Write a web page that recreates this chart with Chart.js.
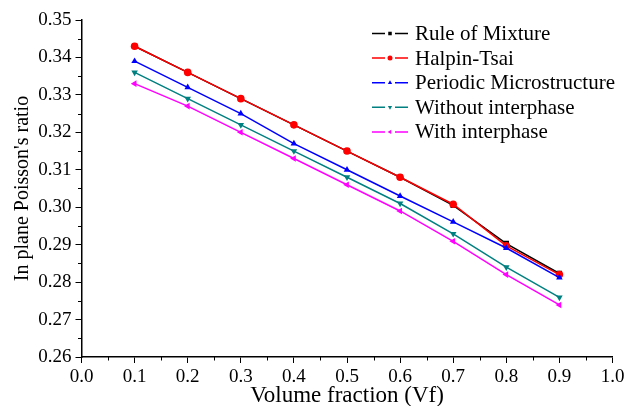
<!DOCTYPE html>
<html>
<head>
<meta charset="utf-8">
<script src="https://cdn.jsdelivr.net/npm/chart.js@4/dist/chart.umd.min.js"></script>
<style>
  html, body { margin: 0; padding: 0; background: #fff; }
  #wrap { width: 628px; height: 406px; }
</style>
</head>
<body>
<div id="wrap"><canvas id="chart" width="628" height="406"></canvas></div>
<script>
// data
const volumeFraction = [0.1, 0.2, 0.3, 0.4, 0.5, 0.6, 0.7, 0.8, 0.9];
const ruleOfMixture = [0.343, 0.336, 0.329, 0.322, 0.315, 0.308, 0.3005, 0.2903, 0.2823];
const halpinTsai = [0.343, 0.336, 0.329, 0.322, 0.315, 0.308, 0.3008, 0.2897, 0.2820];
const periodicMicro = [0.339, 0.332, 0.325, 0.317, 0.310, 0.303, 0.2961, 0.2891, 0.2812];
const withoutInterphase = [0.336, 0.329, 0.322, 0.315, 0.308, 0.301, 0.2929, 0.2840, 0.2759];
const withInterphase = [0.333, 0.327, 0.320, 0.313, 0.306, 0.299, 0.2909, 0.2820, 0.2739];
const seriesNames = ["Rule of Mixture", "Halpin-Tsai", "Periodic Microstructure", "Without interphase", "With interphase"];

const serif = "'Liberation Serif', 'DejaVu Serif', serif";

function pts(ys) {
  return volumeFraction.map((x, i) => ({ x: x, y: ys[i] }));
}

function makeSet(label, ys, color, style, rot) {
  return {
    label: label,
    data: pts(ys),
    borderColor: color,
    backgroundColor: color,
    borderWidth: 1.5,
    pointStyle: style,
    rotation: rot || 0,
    pointRadius: 3.8,
    pointBorderWidth: 0,
    tension: 0,
  };
}

const datasets = [
  makeSet(seriesNames[0], ruleOfMixture, "#000000", "rect"),
  makeSet(seriesNames[1], halpinTsai, "#ff0000", "circle"),
  makeSet(seriesNames[2], periodicMicro, "#0000ff", "triangle"),
  makeSet(seriesNames[3], withoutInterphase, "#008080", "triangle", 180),
  makeSet(seriesNames[4], withInterphase, "#ff00ff", "triangle", -90),
];
// Rule of Mixture sits under Halpin-Tsai
datasets[0].order = 2;
datasets[1].order = 1;

// minor ticks + custom legend
const extras = {
  id: "extras",
  afterDraw(chart) {
    const ctx = chart.ctx;
    const xs = chart.scales.x;
    const ys = chart.scales.y;
    const area = chart.chartArea;
    ctx.save();
    ctx.strokeStyle = "#000";
    ctx.lineWidth = 1;
    // minor ticks on x
    for (let v = 0.05; v < 1; v += 0.1) {
      const px = Math.round(xs.getPixelForValue(v)) + 0.5;
      ctx.beginPath();
      ctx.moveTo(px, area.bottom);
      ctx.lineTo(px, area.bottom + 3.5);
      ctx.stroke();
    }
    // minor ticks on y
    for (let v = 0.265; v < 0.35; v += 0.01) {
      const py = Math.round(ys.getPixelForValue(v)) + 0.5;
      ctx.beginPath();
      ctx.moveTo(area.left, py);
      ctx.lineTo(area.left - 3.5, py);
      ctx.stroke();
    }
    // legend
    const lx = 372, ly = 33.5, step = 24.6;
    datasets.forEach((ds, i) => {
      const y = ly + i * step;
      ctx.strokeStyle = ds.borderColor;
      ctx.lineWidth = 1.5;
      ctx.beginPath();
      ctx.moveTo(lx, y);
      ctx.lineTo(lx + 13, y);
      ctx.moveTo(lx + 23, y);
      ctx.lineTo(lx + 36, y);
      ctx.stroke();
      ctx.fillStyle = ds.borderColor;
      Chart.helpers.drawPoint(ctx, {
        pointStyle: ds.pointStyle,
        rotation: ds.rotation,
        radius: 2.5,
        borderWidth: 0,
      }, lx + 18, y);
      ctx.fillStyle = "#000";
      ctx.font = "21px " + serif;
      ctx.textBaseline = "middle";
      ctx.textAlign = "left";
      ctx.fillText(ds.label, lx + 43, y + 1);
    });
    ctx.restore();
  },
};

new Chart(document.getElementById("chart").getContext("2d"), {
  type: "line",
  data: { datasets: datasets },
  plugins: [extras],
  options: {
    responsive: false,
    animation: false,
    layout: { padding: { top: 20, right: 15.5, left: 11, bottom: 0 } },
    plugins: { legend: { display: false }, tooltip: { enabled: false } },
    scales: {
      x: {
        type: "linear",
        min: 0,
        max: 1,
        afterFit: (s) => { s.height = 49; },
        ticks: {
          stepSize: 0.1,
          color: "#000",
          font: { family: serif, size: 19 },
          padding: 3,
          maxRotation: 0,
          callback: (v) => v.toFixed(1),
        },
        grid: { drawOnChartArea: false, tickLength: 6, color: "#000", lineWidth: 1 },
        border: { color: "#000", width: 1.5 },
        title: {
          display: true,
          text: "Volume fraction (Vf)",
          color: "#000",
          font: { family: serif, size: 23, lineHeight: 0.9 },
          padding: { top: 0, bottom: 0 },
        },
      },
      y: {
        type: "linear",
        min: 0.26,
        max: 0.35,
        afterFit: (s) => { s.width = 81.5 - 11; },
        ticks: {
          stepSize: 0.01,
          color: "#000",
          font: { family: serif, size: 19 },
          padding: 4,
          callback: (v) => v.toFixed(2),
        },
        grid: { drawOnChartArea: false, tickLength: 6, color: "#000", lineWidth: 1 },
        border: { color: "#000", width: 1.5 },
        title: {
          display: true,
          text: "In plane Poisson's ratio",
          color: "#000",
          font: { family: serif, size: 20 },
          padding: { top: 0, bottom: 0 },
        },
      },
    },
  },
});
</script>
</body>
</html>
